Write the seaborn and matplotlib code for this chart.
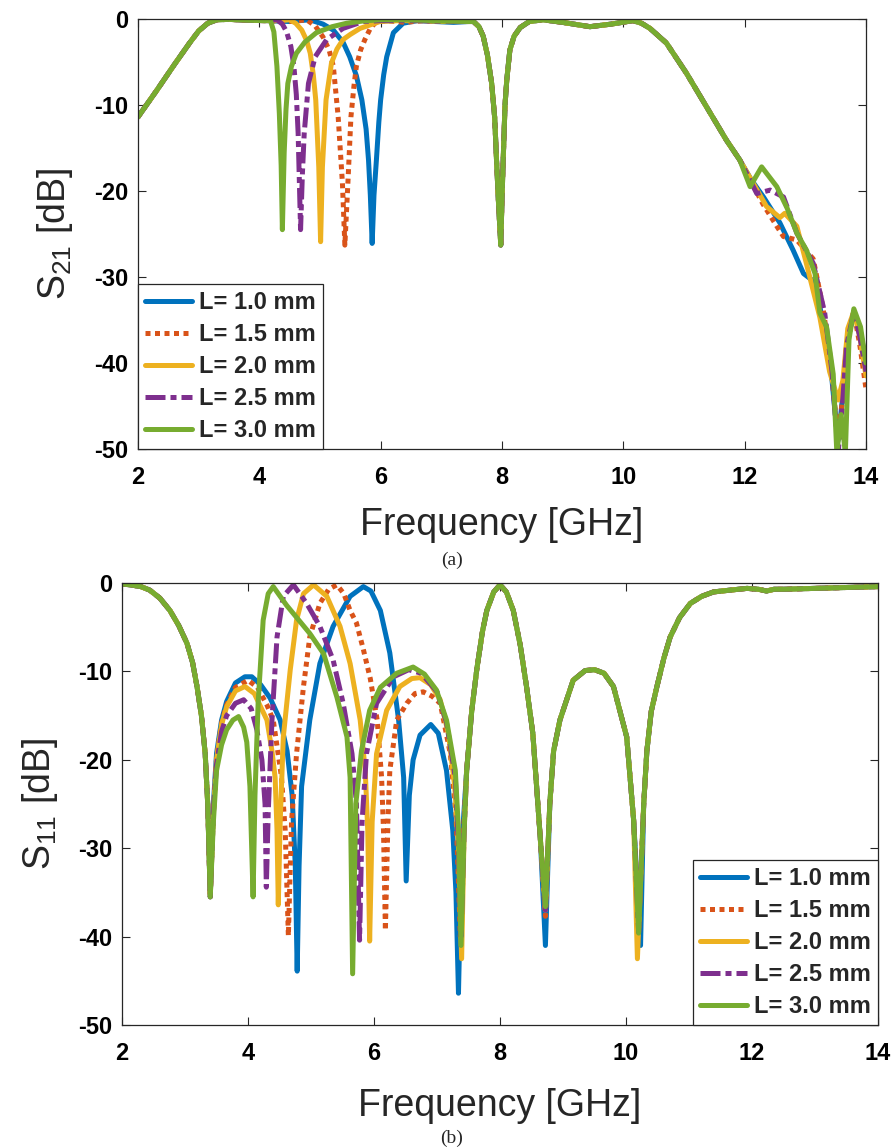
import numpy as np
import pandas as pd
import matplotlib
matplotlib.use("Agg")
import matplotlib.pyplot as plt
import seaborn as sns

# ---- legend labels / ticks ----
labels = ["L= 1.0 mm", "L= 1.5 mm", "L= 2.0 mm", "L= 2.5 mm", "L= 3.0 mm"]
x_ticks = [2, 4, 6, 8, 10, 12, 14]
x_ticklabels = ["2", "4", "6", "8", "10", "12", "14"]
y_ticks = [0, -10, -20, -30, -40, -50]
y_ticklabels = ["0", "-10", "-20", "-30", "-40", "-50"]

# ---- S21 (a): shared start ----
s21_head_f = [2.0, 2.3, 2.6, 2.85, 3.0, 3.15, 3.3, 3.5, 3.8, 4.1]
s21_head_db = [-11.4, -8.4, -5.3, -2.8, -1.4, -0.5, -0.1, -0.05, -0.15, -0.2]

# ---- S21: first notch, one per length ----
s21_notch_f = {
    "L= 1.0 mm": [4.5, 4.83, 5.05, 5.22, 5.38, 5.49, 5.60, 5.69, 5.76, 5.80, 5.83, 5.86,
                  5.89, 5.93, 5.97, 6.00, 6.05, 6.10, 6.21, 6.37, 6.6, 6.9, 7.2, 7.45],
    "L= 1.5 mm": [4.5, 4.78, 4.92, 5.05, 5.15, 5.22, 5.30, 5.37, 5.41, 5.46, 5.51, 5.56,
                  5.60, 5.67, 5.74, 5.83, 5.93, 6.1, 6.4, 6.7, 7.0, 7.45],
    "L= 2.0 mm": [4.3, 4.5, 4.60, 4.70, 4.78, 4.84, 4.89, 4.93, 4.98, 5.01, 5.04, 5.10,
                  5.19, 5.28, 5.38, 5.50, 5.66, 5.99, 6.3, 6.7, 7.0, 7.45],
    "L= 2.5 mm": [4.15, 4.29, 4.38, 4.45, 4.52, 4.57, 4.61, 4.64, 4.68, 4.71, 4.74, 4.81,
                  4.92, 5.11, 5.38, 5.71, 6.0, 6.4, 6.7, 7.0, 7.45],
    "L= 3.0 mm": [4.18, 4.24, 4.29, 4.33, 4.36, 4.38, 4.41, 4.44, 4.47, 4.53, 4.61, 4.75,
                  4.94, 5.2, 5.44, 5.7, 5.99, 6.3, 6.7, 7.0, 7.45],
}
s21_notch_db = {
    "L= 1.0 mm": [-0.3, -0.1, -0.6, -1.3, -2.7, -4.4, -6.6, -9.4, -12.8, -16.4, -20.5, -26.1,
                  -20.5, -16.4, -12.0, -9.4, -6.5, -4.4, -1.6, -0.5, -0.2, -0.3, -0.4, -0.3],
    "L= 1.5 mm": [-0.3, -0.1, -0.8, -2.1, -3.6, -5.5, -11.4, -19.1, -26.3, -19.1, -11.4, -7.8,
                  -5.5, -3.6, -2.4, -1.1, -0.3, -0.2, -0.4, -0.2, -0.3, -0.3],
    "L= 2.0 mm": [-0.2, -0.1, -0.5, -1.3, -2.5, -4.0, -6.5, -9.4, -17.2, -25.9, -17.2, -9.4,
                  -5.1, -3.5, -2.4, -1.8, -1.1, -0.3, -0.2, -0.2, -0.3, -0.3],
    "L= 2.5 mm": [-0.2, -0.1, -0.6, -1.5, -3.2, -5.5, -8.8, -13.3, -24.5, -18.0, -13.3, -7.5,
                  -4.4, -2.4, -1.1, -0.3, -0.2, -0.2, -0.2, -0.3, -0.3],
    "L= 3.0 mm": [-0.1, -1.5, -5.5, -11.0, -17.0, -24.5, -15.5, -10.5, -7.5, -5.5, -4.0, -2.7,
                  -1.6, -0.9, -0.5, -0.25, -0.1, -0.1, -0.15, -0.25, -0.3],
}

# ---- S21: shared 8 GHz notch and roll-off ----
s21_mid_f = [7.53, 7.62, 7.69, 7.76, 7.83, 7.88, 7.91, 7.94, 7.98, 8.0, 8.02, 8.05, 8.08,
             8.13, 8.2, 8.3, 8.45, 8.68, 9.0, 9.45, 9.8, 10.16, 10.3, 10.44, 10.71, 11.04,
             11.37, 11.70, 11.92]
s21_mid_db = [-0.3, -0.9, -2.0, -4.2, -7.5, -11.5, -16.4, -21.0, -26.3, -21.0, -16.4, -10.0,
              -7.0, -3.6, -2.0, -1.0, -0.3, -0.1, -0.4, -0.9, -0.6, -0.2, -0.5, -1.1, -2.8,
              -6.3, -10.2, -14.1, -16.4]

# ---- S21: high-frequency tail per length ----
s21_tail_f = {
    "L= 1.0 mm": [12.1, 12.31, 12.58, 12.80, 12.97, 13.10, 13.24, 13.40, 13.48, 13.54, 13.6,
                  13.68, 13.80, 13.9, 14.0],
    "L= 1.5 mm": [12.1, 12.3, 12.53, 12.64, 12.86, 13.13, 13.29, 13.42, 13.54, 13.6, 13.68,
                  13.80, 13.9, 14.0],
    "L= 2.0 mm": [12.1, 12.36, 12.58, 12.66, 12.86, 13.02, 13.24, 13.40, 13.54, 13.62, 13.70,
                  13.80, 13.9, 14.0],
    "L= 2.5 mm": [12.05, 12.2, 12.42, 12.64, 12.86, 13.13, 13.32, 13.44, 13.54, 13.60, 13.68,
                  13.80, 13.9, 14.0],
    "L= 3.0 mm": [11.98, 12.09, 12.28, 12.53, 12.70, 12.86, 13.02, 13.16, 13.24, 13.35, 13.46,
                  13.52, 13.59, 13.66, 13.72, 13.80, 13.91, 14.0],
}
s21_tail_db = {
    "L= 1.0 mm": [-18.6, -20.7, -23.7, -26.9, -29.6, -30.3, -33.5, -39.0, -45.0, -49.0, -45.0,
                  -38.0, -34.0, -36.0, -40.0],
    "L= 1.5 mm": [-18.8, -21.5, -24.1, -25.3, -25.7, -27.9, -33.5, -40.0, -49.0, -45.0, -38.0,
                  -34.0, -38.0, -43.0],
    "L= 2.0 mm": [-18.6, -21.8, -23.1, -22.6, -24.1, -28.5, -34.7, -41.0, -44.3, -42.0, -36.0,
                  -34.0, -37.0, -41.5],
    "L= 2.5 mm": [-18.2, -20.3, -19.9, -20.7, -24.9, -28.4, -34.2, -41.0, -50.5, -46.0, -38.0,
                  -34.0, -37.0, -41.0],
    "L= 3.0 mm": [-17.5, -19.5, -17.2, -19.5, -22.0, -24.9, -26.9, -29.6, -34.2, -35.8, -41.3,
                  -50.5, -46.0, -50.5, -37.3, -33.7, -35.8, -40.0],
}

# ---- S11 (b): shared start ----
s11_head_f = [2.0, 2.13, 2.3, 2.44, 2.6, 2.76, 2.9, 3.03, 3.12, 3.19, 3.26, 3.32, 3.36, 3.40]
s11_head_db = [-0.1, -0.2, -0.4, -0.8, -1.7, -3.1, -4.8, -6.8, -9.0, -11.7, -15.0, -19.3,
               -25.0, -35.5]

# ---- S11: 3.4 - 7.45 GHz per length ----
s11_mid_f = {
    "L= 1.0 mm": [3.45, 3.50, 3.58, 3.66, 3.80, 3.95, 4.06, 4.2, 4.35, 4.51, 4.62, 4.70, 4.75,
                  4.78, 4.81, 4.85, 4.98, 5.14, 5.35, 5.62, 5.83, 5.95, 6.10, 6.25, 6.39, 6.47,
                  6.51, 6.56, 6.62, 6.73, 6.90, 7.02, 7.15, 7.25, 7.30, 7.34, 7.39],
    "L= 1.5 mm": [3.45, 3.50, 3.58, 3.66, 3.80, 4.0, 4.15, 4.30, 4.40, 4.53, 4.59, 4.64, 4.69,
                  4.77, 4.88, 4.98, 5.14, 5.28, 5.41, 5.52, 5.62, 5.72, 5.83, 5.94, 6.05, 6.12,
                  6.15, 6.18, 6.22, 6.25, 6.36, 6.52, 6.65, 6.78, 6.92, 7.05, 7.21, 7.30, 7.37,
                  7.42],
    "L= 2.0 mm": [3.45, 3.50, 3.58, 3.66, 3.80, 3.95, 4.10, 4.30, 4.38, 4.43, 4.46, 4.48, 4.51,
                  4.56, 4.67, 4.77, 4.88, 5.04, 5.25, 5.46, 5.62, 5.78, 5.86, 5.90, 5.93, 5.97,
                  6.04, 6.20, 6.41, 6.6, 6.73, 6.9, 7.05, 7.18, 7.28, 7.34, 7.39, 7.43],
    "L= 2.5 mm": [3.45, 3.50, 3.58, 3.66, 3.80, 3.93, 4.05, 4.14, 4.22, 4.27, 4.29, 4.32, 4.38,
                  4.46, 4.56, 4.72, 4.93, 5.14, 5.35, 5.51, 5.65, 5.72, 5.77, 5.81, 5.88, 6.04,
                  6.31, 6.55, 6.75, 7.0, 7.15, 7.29, 7.34, 7.38, 7.43],
    "L= 3.0 mm": [3.45, 3.50, 3.58, 3.66, 3.76, 3.85, 3.93, 3.98, 4.03, 4.08, 4.11, 4.16, 4.24,
                  4.32, 4.40, 4.50, 4.61, 4.98, 5.20, 5.41, 5.57, 5.62, 5.66, 5.71, 5.80, 5.93,
                  6.10, 6.36, 6.62, 6.8, 6.99, 7.15, 7.29, 7.34, 7.38, 7.43],
}
s11_mid_db = {
    "L= 1.0 mm": [-25.0, -19.3, -15.5, -13.4, -11.3, -10.6, -10.6, -11.5, -13.0, -15.5, -19.0,
                  -24.0, -32.0, -43.9, -32.0, -23.0, -15.5, -9.1, -4.9, -1.5, -0.4, -0.9, -3.1,
                  -7.9, -15.5, -22.0, -33.7, -24.0, -20.0, -17.2, -16.0, -17.0, -21.2, -28.0,
                  -35.0, -46.4, -30.0],
    "L= 1.5 mm": [-26.0, -19.8, -15.8, -13.8, -11.8, -11.0, -11.8, -13.8, -15.5, -21.9, -28.0,
                  -39.9, -27.0, -19.3, -11.7, -6.1, -2.3, -0.7, -0.2, -1.2, -3.1, -4.5, -7.5,
                  -10.8, -15.5, -22.0, -28.0, -39.3, -27.0, -21.2, -15.5, -13.6, -12.5, -12.3,
                  -12.8, -13.6, -19.3, -26.0, -40.0, -28.0],
    "L= 2.0 mm": [-26.0, -20.0, -16.0, -14.0, -12.2, -11.7, -12.5, -15.5, -19.0, -22.0, -28.0,
                  -36.4, -27.0, -17.4, -9.8, -4.2, -1.2, -0.2, -1.5, -4.9, -9.1, -15.5, -21.2,
                  -28.0, -40.5, -27.0, -19.3, -14.4, -11.7, -10.8, -10.7, -11.5, -13.2, -17.0,
                  -23.0, -30.0, -42.5, -28.0],
    "L= 2.5 mm": [-26.0, -20.5, -16.8, -15.0, -13.6, -13.2, -14.2, -16.6, -20.0, -25.0, -34.4,
                  -26.0, -15.5, -6.1, -1.5, -0.2, -2.3, -4.9, -8.7, -13.6, -19.3, -24.9, -40.4,
                  -27.0, -19.3, -13.6, -10.6, -9.8, -10.2, -12.3, -15.8, -22.0, -30.0, -40.0,
                  -28.0],
    "L= 3.0 mm": [-27.0, -21.2, -18.3, -16.6, -15.5, -15.1, -16.3, -18.0, -23.0, -35.5, -24.0,
                  -13.6, -4.2, -1.2, -0.4, -1.4, -2.5, -5.7, -8.0, -12.9, -17.4, -22.0, -44.2,
                  -25.0, -19.0, -14.4, -11.8, -10.2, -9.5, -10.3, -12.1, -15.5, -21.2, -28.0,
                  -41.0, -28.0],
}

# ---- S11: shared part above 7.45 GHz, with the two notches per length ----
s11_tail1_f = [7.47, 7.55, 7.63, 7.72, 7.79, 7.9, 8.0, 8.1, 8.21, 8.32, 8.42, 8.52, 8.58, 8.64]
s11_tail1_db = [-21.2, -14.5, -9.8, -5.5, -3.1, -1.0, -0.2, -1.0, -3.1, -7.0, -11.7, -17.0,
                -23.0, -29.0]
s11_notch8_f = {"L= 1.0 mm": 8.72, "L= 1.5 mm": 8.72, "L= 2.0 mm": 8.72, "L= 2.5 mm": 8.72,
                "L= 3.0 mm": 8.72}
s11_notch8_db = {"L= 1.0 mm": -41.0, "L= 1.5 mm": -37.7, "L= 2.0 mm": -37.0, "L= 2.5 mm": -37.0,
                 "L= 3.0 mm": -36.6}
s11_tail2_f = [8.79, 8.85, 8.95, 9.16, 9.35, 9.5, 9.65, 9.80, 10.01, 10.12]
s11_tail2_db = [-24.9, -19.0, -15.5, -11.0, -9.9, -9.8, -10.2, -11.7, -17.4, -26.8]
s11_notch10_f = {"L= 1.0 mm": 10.23, "L= 1.5 mm": 10.2, "L= 2.0 mm": 10.18, "L= 2.5 mm": 10.2,
                 "L= 3.0 mm": 10.2}
s11_notch10_db = {"L= 1.0 mm": -41.0, "L= 1.5 mm": -39.0, "L= 2.0 mm": -42.5,
                  "L= 2.5 mm": -39.5, "L= 3.0 mm": -39.6}
s11_tail3_f = [10.28, 10.33, 10.40, 10.49, 10.60, 10.70, 10.85, 11.02, 11.2, 11.39, 11.65,
               11.92, 12.1, 12.23, 12.35, 12.5, 13.0, 13.5, 14.0]
s11_tail3_db = [-25.0, -19.0, -14.5, -11.7, -8.5, -6.1, -3.9, -2.3, -1.5, -1.0, -0.8, -0.6,
                -0.7, -0.9, -0.7, -0.7, -0.6, -0.5, -0.4]

# ---- styles ----
colors = ["#0072BD", "#D95319", "#EDB120", "#7E2F8E", "#77AC30"]
styles = ["-", (0, (1, 0.9)), "-", (0, (4, 1, 1.2, 1)), "-"]
lw = 3.6
ink = "#262626"

sns.set_style("ticks")
plt.rcParams["font.family"] = ["Liberation Sans", "DejaVu Sans"]
plt.rcParams["mathtext.fontset"] = "custom"
plt.rcParams["mathtext.rm"] = "Liberation Sans"
plt.rcParams["mathtext.it"] = "Liberation Sans"
plt.rcParams["mathtext.bf"] = "Liberation Sans:bold"


def curve_s21(lab):
    f = s21_head_f + s21_notch_f[lab] + s21_mid_f + s21_tail_f[lab]
    db = s21_head_db + s21_notch_db[lab] + s21_mid_db + s21_tail_db[lab]
    return pd.DataFrame({"f": f, "db": db})


def curve_s11(lab):
    f = (s11_head_f + s11_mid_f[lab] + s11_tail1_f + [s11_notch8_f[lab]] + s11_tail2_f
         + [s11_notch10_f[lab]] + s11_tail3_f)
    db = (s11_head_db + s11_mid_db[lab] + s11_tail1_db + [s11_notch8_db[lab]] + s11_tail2_db
          + [s11_notch10_db[lab]] + s11_tail3_db)
    return pd.DataFrame({"f": f, "db": db})


def style_axes(ax, ylab, xlab_y, ylab_x):
    ax.set_xlim(2, 14)
    ax.set_ylim(-50, 0)
    ax.set_xticks(x_ticks, x_ticklabels, fontweight="bold", fontsize=17)
    ax.set_yticks(y_ticks, y_ticklabels, fontweight="bold", fontsize=17)
    ax.tick_params(direction="in", top=True, right=True, length=6, width=0.8,
                   color=ink, labelcolor="black")
    ax.tick_params(axis="x", pad=12)
    ax.tick_params(axis="y", pad=7)
    for sp in ax.spines.values():
        sp.set_visible(True)
        sp.set_color(ink)
        sp.set_linewidth(0.9)
    ax.set_xlabel("Frequency [GHz]", fontsize=27, color=ink)
    ax.set_ylabel(ylab, fontsize=27, color=ink)
    ax.xaxis.set_label_coords(0.5, xlab_y)
    ax.yaxis.set_label_coords(ylab_x, 0.5)


fig = plt.figure(figsize=(8.96, 11.48), dpi=100)
ax1 = fig.add_axes([0.1540, 0.6089, 0.8125, 0.3746])
ax2 = fig.add_axes([0.1362, 0.1071, 0.8438, 0.3850])

for lab, c, ls in zip(labels, colors, styles):
    sns.lineplot(data=curve_s21(lab), x="f", y="db", ax=ax1, color=c, linestyle=ls,
                 linewidth=lw, label=lab, sort=False, estimator=None)
    sns.lineplot(data=curve_s11(lab), x="f", y="db", ax=ax2, color=c, linestyle=ls,
                 linewidth=lw, label=lab, sort=False, estimator=None)

style_axes(ax1, r"S$_{21}$ [dB]", -0.135, -0.087)
style_axes(ax2, r"S$_{11}$ [dB]", -0.142, -0.082)

leg_kw = dict(prop={"weight": "bold", "size": 17}, frameon=True, fancybox=False,
              framealpha=1, edgecolor=ink, borderaxespad=0, handlelength=2.0,
              handletextpad=0.3, labelspacing=0.38, borderpad=0.3)
leg1 = ax1.legend(loc="lower left", **leg_kw)
leg2 = ax2.legend(loc="lower right", **leg_kw)
for leg in (leg1, leg2):
    leg.get_frame().set_linewidth(0.9)

fig.text(0.5045, 0.5122, "(a)", family="Liberation Serif", fontsize=14,
         ha="center", va="center")
fig.text(0.5045, 0.0087, "(b)", family="Liberation Serif", fontsize=14,
         ha="center", va="center")

fig.savefig("out.png", dpi=100)
